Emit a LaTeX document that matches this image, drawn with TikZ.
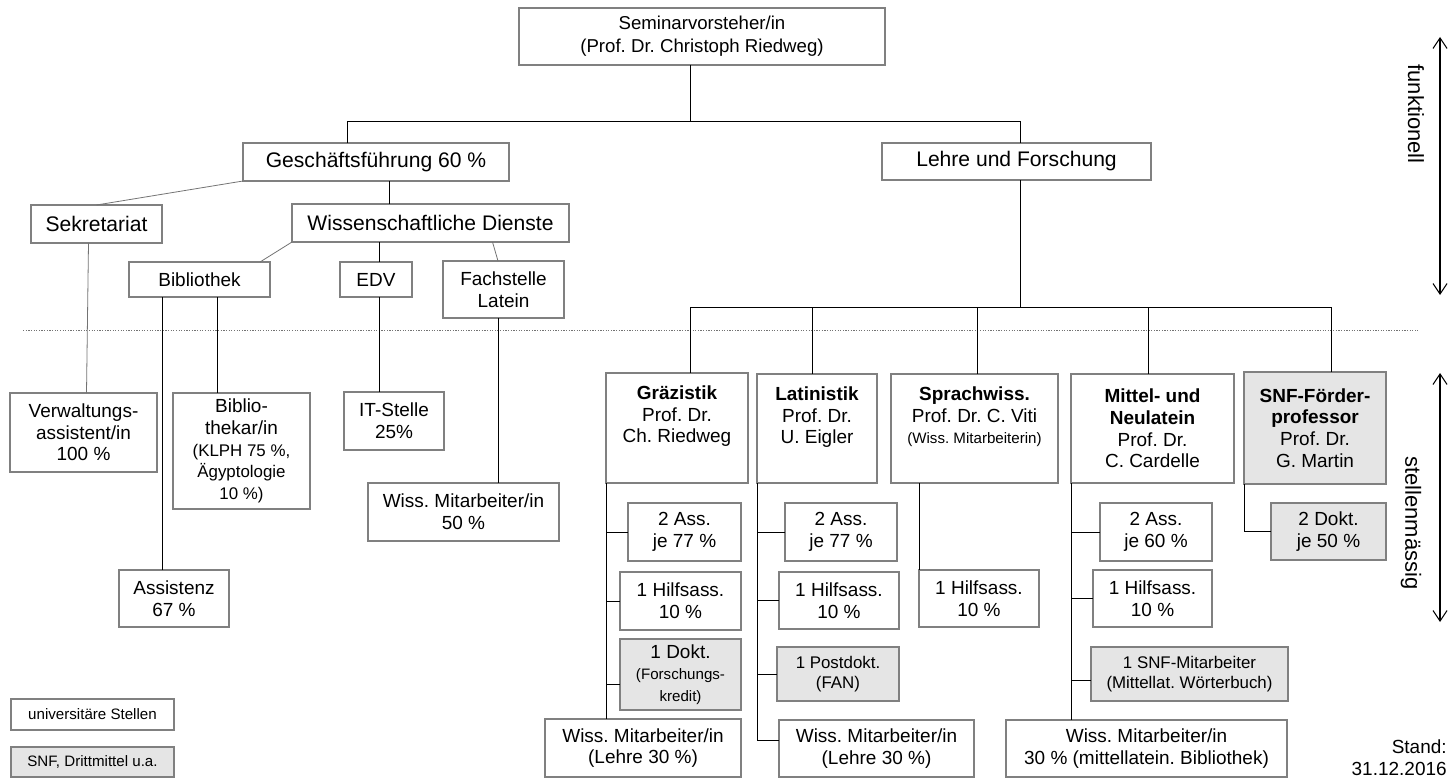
\documentclass[tikz,border=0pt]{standalone}
\usepackage{fontspec}
\setmainfont{Liberation Sans}
\usetikzlibrary{arrows.meta,calc,positioning}
\frenchspacing

\newcommand{\ftop}{\fontsize{10.6}{13}\selectfont}
\newcommand{\fbig}{\fontsize{12}{14}\selectfont}
\newcommand{\fnorm}{\fontsize{10.8}{12.3}\selectfont}
\newcommand{\fmid}{\fontsize{9.6}{11.2}\selectfont}
\newcommand{\fsmall}{\fontsize{8.6}{10.2}\selectfont}
\newcommand{\fside}{\fontsize{12.5}{14}\selectfont}

\tikzset{
  unibox/.style={draw=black!50, line width=0.6pt, inner sep=0pt, outer sep=0pt, align=center, font=\fnorm},
  snfbox/.style={unibox, fill=black!10},
  wh/.style 2 args={minimum width=#1*0.2mm, minimum height=#2*0.2mm},
  chairtxt/.style={inner sep=0pt, align=center, font=\fnorm},
  link/.style={line width=0.55pt},
  thinlink/.style={line width=0.45pt, draw=black!55},
  dblarrow/.style={line width=0.6pt, {Straight Barb[length=6pt,width=8pt]}-{Straight Barb[length=6pt,width=8pt]}},
}

\begin{document}
\begin{tikzpicture}[x=0.2mm, y=-0.2mm]
  \useasboundingbox (0,0) rectangle (1453,779);

  % Leitung und Bereiche
  \node[unibox, wh={366}{57}, font=\ftop] (top) at (702,36.5) {Seminarvorsteher/in\\(Prof. Dr. Christoph Riedweg)};
  \node[unibox, wh={266}{38}, font=\fbig] (gf) at (376,162) {Geschäftsführung 60 \%};
  \node[unibox, wh={269}{37}, font=\fbig] (lf) at (1016.5,161.5) {Lehre und Forschung};
  \node[unibox, wh={131}{38}, font=\fbig] (sek) at (96.5,224) {Sekretariat};
  \node[unibox, wh={277}{38}, font=\fbig] (wd) at (430.5,223) {Wissenschaftliche Dienste};
  \node[unibox, wh={141}{35}] (bib) at (199.5,279.5) {Bibliothek};
  \node[unibox, wh={72}{35}] (edv) at (376,279.5) {EDV};
  \node[unibox, wh={121}{57}] (fach) at (503.5,289.5) {Fachstelle\\Latein};

  % Stellen Geschaeftsfuehrung
  \node[unibox, wh={147}{79}] (verw) at (83.5,432.5) {Verwaltungs-\\assistent/in\\100 \%};
  \node[unibox, wh={137}{116}] (bibkar) at (241.5,451) {Biblio-\\thekar/in\\\fmid(KLPH 75 \%,\\\fmid Ägyptologie\\\fmid 10 \%)};
  \node[unibox, wh={110}{57}] (assi) at (174,598.5) {Assistenz\\67 \%};
  \node[unibox, wh={100}{58}] (it) at (394,421) {IT-Stelle\\25\%};
  \node[unibox, wh={191}{58}] (wiss50) at (463.5,512) {Wiss. Mitarbeiter/in\\50 \%};

  % Lehrstuehle
  \node[unibox, wh={142}{110}] (graez) at (677,428) {};
  \node[chairtxt, below=7pt of graez.north] (graez-t) {\textbf{Gräzistik}\\Prof. Dr.\\Ch. Riedweg};
  \node[unibox, wh={120}{109}] (lat) at (817,428.5) {};
  \node[chairtxt, below=7pt of lat.north] (lat-t) {\textbf{Latinistik}\\Prof. Dr.\\U. Eigler};
  \node[unibox, wh={167}{109}] (spr) at (974.5,428.5) {};
  \node[chairtxt, below=7pt of spr.north] (spr-t) {\textbf{Sprachwiss.}\\Prof. Dr. C. Viti\\\fsmall(Wiss. Mitarbeiterin)};
  \node[unibox, wh={163}{109}] (mit) at (1152.5,428.5) {\textbf{Mittel- und}\\\textbf{Neulatein}\\Prof. Dr.\\C. Cardelle};
  \node[snfbox, wh={142}{112}] (snf) at (1315,428) {\textbf{SNF-Förder-}\\\textbf{professor}\\Prof. Dr.\\G. Martin};

  % Stellen Graezistik
  \node[unibox, wh={113}{58}] (g_ass) at (684.5,532) {2 Ass.\\je 77 \%};
  \node[unibox, wh={121}{58}] (g_hilf) at (680.5,601) {1 Hilfsass.\\10 \%};
  \node[snfbox, wh={121}{71}] (g_dokt) at (680.5,674.5) {1 Dokt.\\\fsmall(Forschungs-\\\fsmall kredit)};
  \node[unibox, wh={196}{58}] (g_wiss) at (643,748) {Wiss. Mitarbeiter/in\\(Lehre 30 \%)};

  % Stellen Latinistik
  \node[unibox, wh={112}{58}] (l_ass) at (841,532) {2 Ass.\\je 77 \%};
  \node[unibox, wh={120}{57}] (l_hilf) at (839,600.5) {1 Hilfsass.\\10 \%};
  \node[snfbox, wh={122}{54}, font=\fmid] (l_post) at (838,674) {1 Postdokt.\\(FAN)};
  \node[unibox, wh={195}{57}] (l_wiss) at (876.5,748.5) {Wiss. Mitarbeiter/in\\(Lehre 30 \%)};

  % Stellen Sprachwissenschaft
  \node[unibox, wh={120}{57}] (s_hilf) at (979,598.5) {1 Hilfsass.\\10 \%};

  % Stellen Mittel- und Neulatein
  \node[unibox, wh={112}{58}] (m_ass) at (1156,532) {2 Ass.\\je 60 \%};
  \node[unibox, wh={119}{57}] (m_hilf) at (1152.5,598.5) {1 Hilfsass.\\10 \%};
  \node[snfbox, wh={197}{54}, font=\fmid] (m_snf) at (1189.5,674) {1 SNF-Mitarbeiter\\(Mittellat. Wörterbuch)};
  \node[unibox, wh={281}{57}] (m_wiss) at (1146.5,748.5) {Wiss. Mitarbeiter/in\\30 \% (mittellatein. Bibliothek)};

  % Stellen SNF-Foerderprofessur
  \node[snfbox, wh={115}{57}] (s_dokt) at (1328.5,531.5) {2 Dokt.\\je 50 \%};

  % Legende, Datum
  \node[unibox, wh={163}{31}, font=\fsmall] (leg-uni) at (92.5,714.5) {universitäre Stellen};
  \node[snfbox, wh={163}{30}, font=\fsmall] (leg-snf) at (92.5,762) {SNF, Drittmittel u.a.};
  \node[align=right, anchor=east, inner sep=0pt, font=\fnorm] (stand) at (1447,758) {Stand:\\31.12.2016};

  % Ebenen rechts
  \node[rotate=-90, inner sep=0pt, font=\fside] (funk) at (1416,114) {funktionell};
  \node[rotate=-90, inner sep=0pt, font=\fside] (stell) at (1411,523) {stellenmässig};
  \coordinate (fa1) at (1440,37);
  \coordinate (fa2) at (1440,295);
  \coordinate (sa1) at (1440,373);
  \coordinate (sa2) at (1440,622);
  \draw[dblarrow] (fa1) -- (fa2);
  \draw[dblarrow] (sa1) -- (sa2);

  % Trennlinie
  \draw[black!55, line width=0.5pt, dash pattern=on 0.7pt off 0.8pt] (23,330) -- (1418,330);

  % Verbindungen oben
  \coordinate (xTop) at (690,121);
  \coordinate (xGf) at (347,121);
  \coordinate (xLf) at (1020,121);
  \coordinate (xLow) at (1020,307);
  \coordinate (xWd) at (389,190);
  \coordinate (xAss) at (162,300);
  \coordinate (xBk) at (217,300);
  \coordinate (xIt) at (379,300);
  \coordinate (xFa) at (498,300);
  \draw[link] (top.south -| xTop) -- (xTop);
  \draw[link] (gf.north -| xGf) -- (xGf) -- (xLf) -- (lf.north -| xLf);
  \draw[link] (lf.south -| xLow) -- (xLow);
  \draw[link] (gf.south -| xWd) -- (wd.north -| xWd);
  \draw[thinlink] (gf.south west) -- (sek.north);
  \draw[thinlink] ($(sek.south)+(-8,0)$) -- ($(verw.north)+(3,0)$);
  \draw[thinlink] (wd.south west) -- ($(bib.north east)+(-10,0)$);
  \draw[link] (wd.south -| xIt) -- (edv.north -| xIt);
  \draw[thinlink] ($(wd.south)+(62,0)$) -- (fach.north -| xFa);
  \draw[link] (bib.south -| xAss) -- (assi.north -| xAss);
  \draw[link] (bib.south -| xBk) -- (bibkar.north -| xBk);
  \draw[link] (edv.south -| xIt) -- (it.north -| xIt);
  \draw[link] (fach.south -| xFa) -- (wiss50.north -| xFa);

  % Verteiler Lehre und Forschung
  \coordinate (d1) at (690,307);
  \coordinate (d2) at (812,307);
  \coordinate (d3) at (977,307);
  \coordinate (d4) at (1148,307);
  \coordinate (d5) at (1331,307);
  \draw[link] (d1) -- (d5);
  \foreach \d/\n in {d1/graez, d2/lat, d3/spr, d4/mit, d5/snf}
    \draw[link] (\d) -- (\n.north -| \d);

  % Gräzistik
  \draw[link] (graez.south west) -- (g_wiss.north -| graez.south west);
  \foreach \n in {g_ass, g_hilf}
    \draw[link] (\n.west -| graez.south west) -- (\n.west);
  \coordinate (gD) at ($(g_dokt.west)+(0,10)$);
  \draw[link] (gD -| graez.south west) -- (gD);

  % Latinistik
  \coordinate (lW) at ($(l_wiss.west)+(0,-8)$);
  \draw[link] (lat.south west) |- (lW);
  \foreach \n in {l_ass, l_hilf, l_post}
    \draw[link] (\n.west -| lat.south west) -- (\n.west);

  % Sprachwissenschaft
  \draw[link] (s_hilf.north west |- spr.south) -- (s_hilf.north west);

  % Mittel- und Neulatein
  \draw[link] (mit.south west) -- (m_wiss.north -| mit.south west);
  \foreach \n in {m_ass, m_hilf}
    \draw[link] (\n.west -| mit.south west) -- (\n.west);
  \coordinate (mS) at ($(m_snf.west)+(0,6)$);
  \draw[link] (mS -| mit.south west) -- (mS);

  % SNF-Förderprofessur
  \draw[link] (snf.south west) |- (s_dokt.west);
\end{tikzpicture}
\end{document}
